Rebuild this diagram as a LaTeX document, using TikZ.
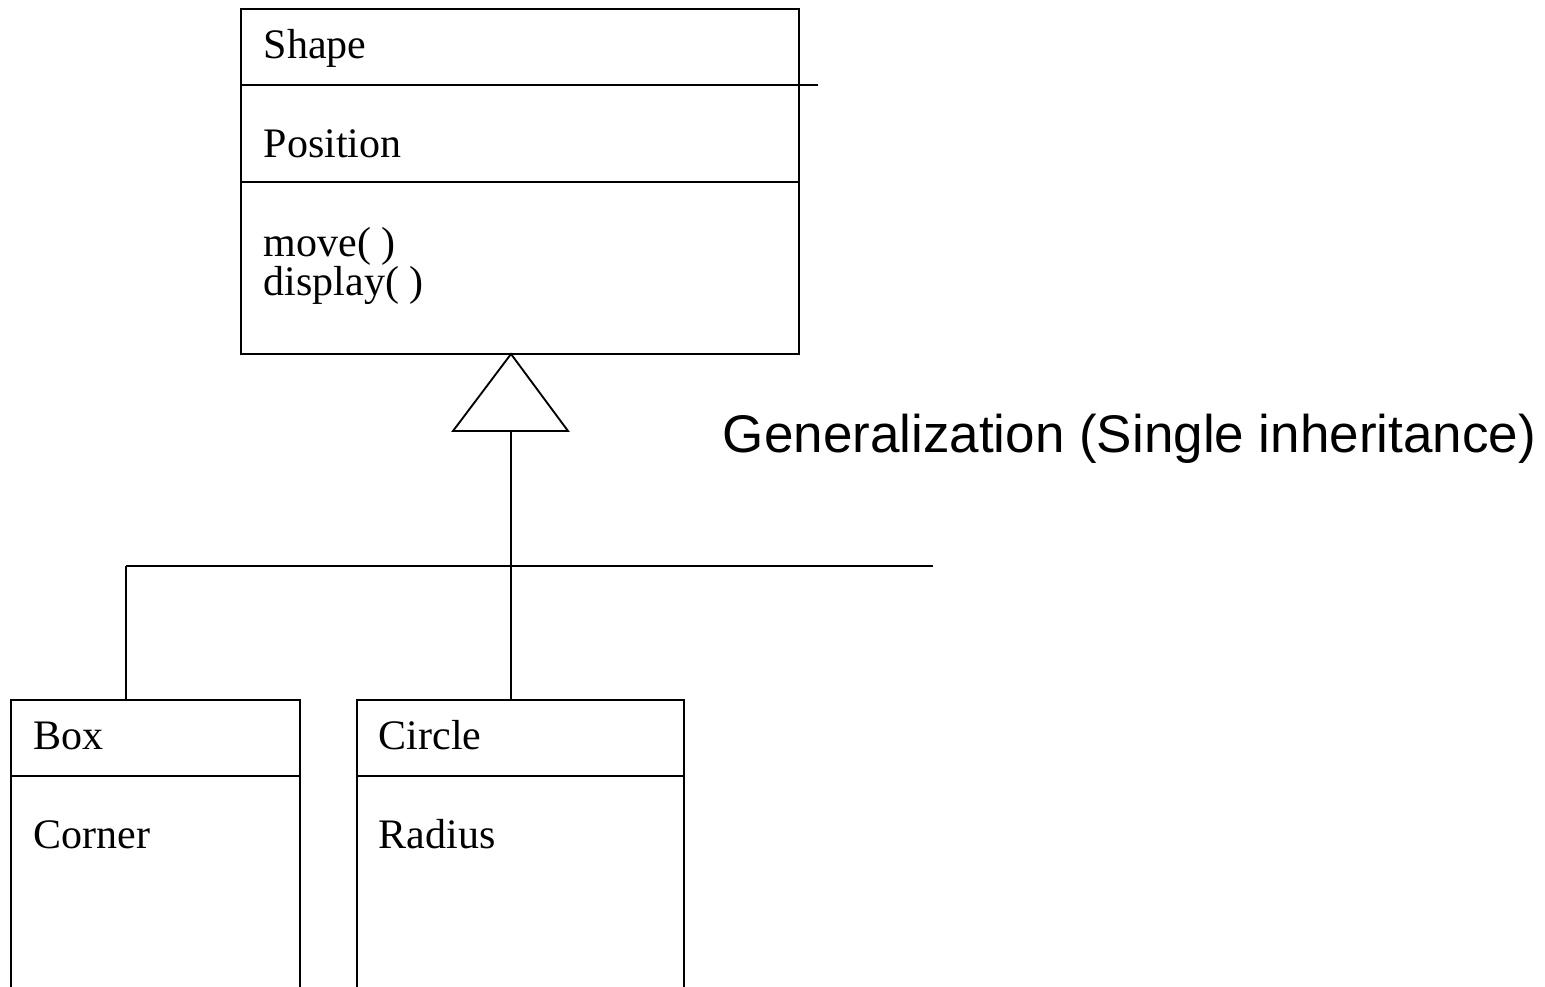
\documentclass[tikz,border=0pt]{standalone}
\usepackage{fontspec}
\setmainfont{Liberation Serif}
\newfontfamily\labelfont{Liberation Sans}

\begin{document}
\begin{tikzpicture}[x=0.75pt,y=-0.75pt,line width=1.4pt]
\tikzset{member/.style={anchor=base west,inner sep=0pt,font=\fontsize{31.5}{23}\selectfont}}
\clip (0,0) rectangle (1545,987);
% Shape class
\draw (241,9) rectangle (799,354);
\draw (241,85) -- (818,85);
\draw (241,182) -- (799,182);
\node[member] (shapename) at (263,59) {Shape};
\node[member] (shapepos) at (263,158) {Position};
\node[member,anchor=north west,align=left] (shapeops) at (263,226) {move( )\\display( )};
% Box class
\draw (11,700) rectangle (300,1000);
\draw (11,776) -- (300,776);
\node[member] (boxname) at (33,749) {Box};
\node[member] (boxcorner) at (33,848) {Corner};
% Circle class
\draw (357,700) rectangle (684,1000);
\draw (357,776) -- (684,776);
\node[member] (circlename) at (378,749) {Circle};
\node[member] (circleradius) at (378,848) {Radius};
% generalization
\coordinate (shapebot) at (511,354);
\coordinate (tribase) at (511,431);
\coordinate (busleft) at (126,566);
\coordinate (busright) at (933,566);
\coordinate (boxtop) at (126,700);
\coordinate (circletop) at (511,700);
\draw (shapebot) -- (453,431) -- (568,431) -- cycle;
\draw (tribase) -- (circletop);
\draw (busleft) -- (busright);
\draw (busleft) -- (boxtop);
\node[anchor=base west,inner sep=0pt,font=\labelfont\fontsize{39.75}{46}\selectfont] (genlabel) at (722,452) {Generalization (Single inheritance)};
\end{tikzpicture}
\end{document}
